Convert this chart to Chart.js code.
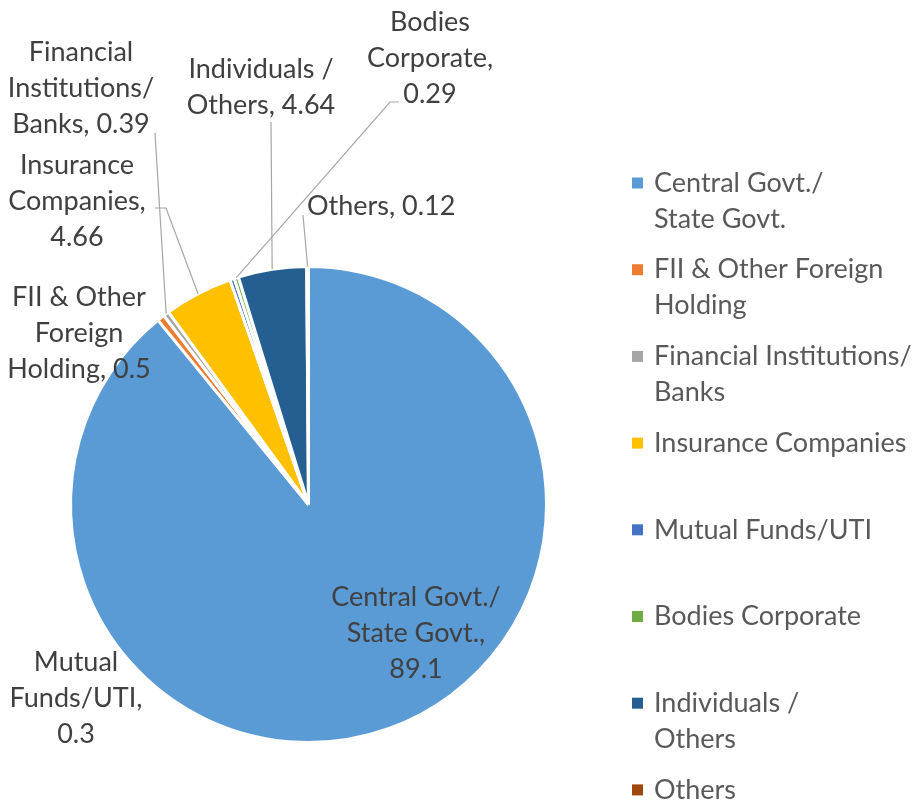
<!DOCTYPE html>
<html>
<head>
<meta charset="utf-8">
<script src="https://cdn.jsdelivr.net/npm/chart.js@4/dist/chart.umd.min.js"></script>
<style>
  html, body { margin: 0; padding: 0; background: #fff; }
  #wrap { width: 914px; height: 801px; position: relative; }
</style>
</head>
<body>
<div id="wrap"><canvas id="pie"></canvas></div>
<script>
/* ── Data ─────────────────────────────────────────────── */
const categories = [
  'Central Govt./ State Govt.',
  'FII & Other Foreign Holding',
  'Financial Institutions/ Banks',
  'Insurance Companies',
  'Mutual Funds/UTI',
  'Bodies Corporate',
  'Individuals / Others',
  'Others'
];
const shares = [89.1, 0.5, 0.39, 4.66, 0.3, 0.29, 4.64, 0.12];
const sliceColors = ['#5B9BD5', '#ED7D31', '#A5A5A5', '#FFC000', '#4472C4', '#70AD47', '#255E91', '#9E480E'];

// how Excel wrapped the text ({v} = value)
const legendLines = [
  ['Central Govt./', 'State Govt.'],
  ['FII & Other Foreign', 'Holding'],
  ['Financial Institutions/', 'Banks'],
  ['Insurance Companies'],
  ['Mutual Funds/UTI'],
  ['Bodies Corporate'],
  ['Individuals /', 'Others'],
  ['Others']
];
const dataLabelLines = [
  ['Central Govt./', 'State Govt.,', '{v}'],
  ['FII & Other', 'Foreign', 'Holding, {v}'],
  ['Financial', 'Institutions/', 'Banks, {v}'],
  ['Insurance', 'Companies,', '{v}'],
  ['Mutual', 'Funds/UTI,', '{v}'],
  ['Bodies', 'Corporate,', '{v}'],
  ['Individuals /', 'Others, {v}'],
  ['Others, {v}']
];

/* ── Layout of labels (x = centre, y = first line) ────── */
const labelLayout = [
  { x: 416, y: 597 },
  { x: 79,  y: 297 },
  { x: 81,  y: 52,  leader: [[155, 133]] },
  { x: 77,  y: 165, leader: [[166, 208], [155, 208]] },
  { x: 76,  y: 662 },
  { x: 430, y: 22,  leader: [[390, 102], [399, 102]] },
  { x: 261, y: 69,  leader: [[271, 122]] },
  { x: 307, y: 206, align: 'left', leader: [[303, 215]] }
];

const FONT = 'Lato, "Open Sans", sans-serif';
const FONT_SIZE = 27;
const LINE_H = 36;

const labelsPlugin = {
  id: 'excelLabels',
  afterDraw(chart) {
    const ctx = chart.ctx;
    const meta = chart.getDatasetMeta(0);
    ctx.save();

    /* leader lines */
    ctx.strokeStyle = '#A6A6A6';
    ctx.lineWidth = 1.2;
    meta.data.forEach((arc, i) => {
      const lay = labelLayout[i];
      if (!lay.leader) return;
      const p = arc.getProps(['x', 'y', 'startAngle', 'endAngle', 'outerRadius'], true);
      const mid = (p.startAngle + p.endAngle) / 2;
      ctx.beginPath();
      ctx.moveTo(p.x + Math.cos(mid) * p.outerRadius, p.y + Math.sin(mid) * p.outerRadius);
      lay.leader.forEach(pt => ctx.lineTo(pt[0], pt[1]));
      ctx.stroke();
    });

    /* data labels */
    ctx.font = `${FONT_SIZE}px ${FONT}`;
    ctx.fillStyle = '#404040';
    ctx.textBaseline = 'middle';
    dataLabelLines.forEach((lines, i) => {
      const lay = labelLayout[i];
      ctx.textAlign = lay.align || 'center';
      lines.forEach((ln, k) => {
        ctx.fillText(ln.replace('{v}', shares[i]), lay.x, lay.y + k * LINE_H);
      });
    });

    /* legend */
    ctx.textAlign = 'left';
    legendLines.forEach((lines, i) => {
      const y = 183 + i * 86.7;
      ctx.fillStyle = sliceColors[i];
      ctx.fillRect(632, y - 5.5, 11, 11);
      ctx.fillStyle = '#595959';
      lines.forEach((ln, k) => ctx.fillText(ln, 654, y + k * LINE_H));
    });
    ctx.restore();
  }
};

new Chart(document.getElementById('pie'), {
  type: 'pie',
  data: {
    labels: categories,
    datasets: [{
      data: shares,
      backgroundColor: sliceColors,
      borderColor: '#ffffff',
      borderWidth: 3,
      hoverOffset: 0
    }]
  },
  options: {
    responsive: true,
    maintainAspectRatio: false,
    animation: false,
    events: [],
    layout: { padding: { left: 69, right: 366, top: 265, bottom: 57 } },
    plugins: {
      legend: { display: false },
      tooltip: { enabled: false }
    }
  },
  plugins: [labelsPlugin]
});
</script>
</body>
</html>
